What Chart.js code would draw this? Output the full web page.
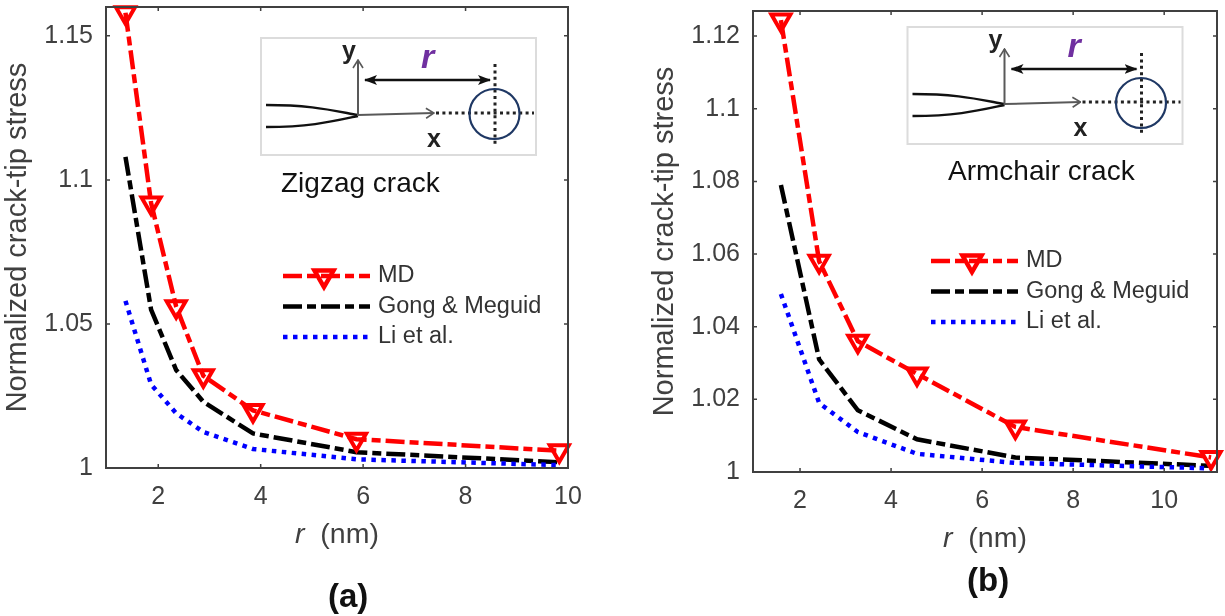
<!DOCTYPE html>
<html>
<head>
<meta charset="utf-8">
<script src="https://cdn.jsdelivr.net/npm/chart.js@4"></script>
<style>
  html, body { margin: 0; background: #fff; }
  #page { position: relative; width: 1225px; height: 616px; overflow: hidden; font-family: "Liberation Sans", Arial, sans-serif; }
  canvas { position: absolute; top: 0; }
  svg { position: absolute; left: 0; top: 0; }
  .txt { position: absolute; white-space: nowrap; line-height: 1; }
  .xt { font-size: 28.5px; color: #404040; }
  .cap { font-size: 33px; font-weight: bold; color: #111; }
</style>
</head>
<body>
<div id="page">
  <canvas id="chartA" width="640" height="616" style="left:0"></canvas>
  <canvas id="chartB" width="585" height="616" style="left:640px"></canvas>

  <svg width="1225" height="616" font-family="Liberation Sans, Arial, sans-serif">
    <defs>
      <marker id="head" markerWidth="13" markerHeight="10" refX="12" refY="5" orient="auto-start-reverse" markerUnits="userSpaceOnUse">
        <path d="M0 0 L13 5 L0 10 L3 5 Z" fill="#111"/>
      </marker>
      <marker id="open" markerWidth="10" markerHeight="12" refX="9" refY="6" orient="auto" markerUnits="userSpaceOnUse">
        <path d="M1 1 L9 6 L1 11" fill="none" stroke="#595959" stroke-width="1.6"/>
      </marker>
      <g id="inset">
        <rect x="261" y="38" width="275" height="117" fill="#fff" stroke="#dcdcdc" stroke-width="2"/>
        <path d="M266 105 C310 105 330 110 358 115" fill="none" stroke="#111" stroke-width="2.4"/>
        <path d="M266 127 C310 127 330 122 358 116" fill="none" stroke="#111" stroke-width="2.4"/>
        <line x1="358" y1="116" x2="358" y2="60" stroke="#595959" stroke-width="2" marker-end="url(#open)"/>
        <line x1="358" y1="115" x2="434" y2="113" stroke="#595959" stroke-width="2" marker-end="url(#open)"/>
        <line x1="436" y1="113" x2="534" y2="113" stroke="#222" stroke-width="3" stroke-dasharray="3 3.4"/>
        <line x1="495" y1="64" x2="495" y2="144" stroke="#222" stroke-width="3" stroke-dasharray="3 3.4"/>
        <circle cx="494.5" cy="114" r="25" fill="none" stroke="#1f3864" stroke-width="2.2"/>
        <line x1="365" y1="80" x2="490" y2="80" stroke="#111" stroke-width="2.4" marker-start="url(#head)" marker-end="url(#head)"/>
        <text x="342" y="59" font-size="25" font-weight="bold" fill="#222">y</text>
        <text x="427" y="147" font-size="25" font-weight="bold" fill="#222">x</text>
        <text x="421" y="68" font-size="34" font-weight="bold" font-style="italic" fill="#7030a0">r</text>
      </g>
    </defs>
    <use href="#inset"/>
    <use href="#inset" x="646.5" y="-11"/>
    <text x="281" y="192" font-size="28" fill="#111">Zigzag crack</text>
    <text x="948" y="180" font-size="28" fill="#111">Armchair crack</text>
  </svg>

  <div class="txt xt" style="left:295px; top:519px"><i>r</i>&nbsp; (nm)</div>
  <div class="txt xt" style="left:943px; top:523px"><i>r</i>&nbsp; (nm)</div>
  <div class="txt cap" style="left:328px; top:579px">(a)</div>
  <div class="txt cap" style="left:967px; top:563px">(b)</div>
</div>

<script>
// ---- datos ----
const seriesNames = ["MD", "Gong & Meguid", "Li et al."];
const yTitle = "Normalized crack-tip stress";

const rZigzag = [1.36, 1.86, 2.35, 2.88, 3.85, 5.87, 9.83];
const mdZigzag = [1.158, 1.092, 1.056, 1.032, 1.020, 1.010, 1.006];
const gongZigzag = [1.108, 1.055, 1.034, 1.023, 1.012, 1.0055, 1.002];
const liZigzag = [1.058, 1.029, 1.019, 1.0125, 1.0066, 1.003, 1.001];

const rArmchair = [1.58, 2.42, 3.27, 4.57, 6.73, 11.03];
const mdArmchair = [1.1244, 1.058, 1.036, 1.027, 1.0124, 1.004];
const gongArmchair = [1.079, 1.031, 1.017, 1.009, 1.004, 1.0017];
const liArmchair = [1.049, 1.019, 1.011, 1.005, 1.0025, 1.001];

const xTicksZigzag = [2, 4, 6, 8, 10];
const yTicksZigzag = [1, 1.05, 1.1, 1.15];
const xTicksArmchair = [2, 4, 6, 8, 10];
const yTicksArmchair = [1, 1.02, 1.04, 1.06, 1.08, 1.1, 1.12];

const AXIS_COLOR = "#404040";
const FONT_FAMILY = "'Liberation Sans', Arial, sans-serif";
const TICK_FONT = { family: FONT_FAMILY, size: 25 };

// marco con ticks hacia dentro (estilo MATLAB)
const framePlugin = {
  id: "frame",
  afterDatasetsDraw(chart) {
    const { ctx, chartArea: a, scales } = chart;
    ctx.save();
    ctx.strokeStyle = AXIS_COLOR;
    ctx.lineWidth = 2;
    ctx.strokeRect(a.left, a.top, a.right - a.left, a.bottom - a.top);
    ctx.lineWidth = 1.5;
    ctx.beginPath();
    scales.x.ticks.forEach(t => {
      const px = scales.x.getPixelForValue(t.value);
      ctx.moveTo(px, a.bottom); ctx.lineTo(px, a.bottom - 4);
      ctx.moveTo(px, a.top); ctx.lineTo(px, a.top + 4);
    });
    scales.y.ticks.forEach(t => {
      const py = scales.y.getPixelForValue(t.value);
      ctx.moveTo(a.left, py); ctx.lineTo(a.left + 4, py);
      ctx.moveTo(a.right, py); ctx.lineTo(a.right - 4, py);
    });
    ctx.stroke();
    ctx.restore();
  }
};

// leyenda propia: la de Chart.js no mezcla linea discontinua y marcador
const legendPlugin = {
  id: "sideLegend",
  afterDraw(chart, args, opts) {
    const { ctx } = chart;
    ctx.save();
    ctx.textBaseline = "middle";
    ctx.font = "23.5px " + FONT_FAMILY;
    chart.data.datasets.forEach((ds, i) => {
      const y = opts.y + i * opts.rowGap;
      ctx.strokeStyle = ds.borderColor;
      ctx.lineWidth = ds.borderWidth;
      ctx.setLineDash(ds.borderDash);
      ctx.beginPath();
      ctx.moveTo(opts.x, y);
      ctx.lineTo(opts.x + 87, y);
      ctx.stroke();
      ctx.setLineDash([]);
      if (ds.pointRadius > 0) {
        ctx.fillStyle = "rgba(255,255,255,0)";
        Chart.helpers.drawPoint(ctx, {
          pointStyle: ds.pointStyle,
          rotation: ds.pointRotation,
          radius: ds.pointRadius,
          borderWidth: ds.pointBorderWidth
        }, opts.x + 41, y);
      }
      ctx.fillStyle = "#333";
      ctx.fillText(ds.label, opts.x + 95, y);
    });
    ctx.restore();
  }
};

function makeDatasets(xs, md, gong, li) {
  const toPts = ys => ys.map((y, i) => ({ x: xs[i], y }));
  return [
    {
      label: seriesNames[0], data: toPts(md), order: 1, clip: false,
      borderColor: "#ff0000", backgroundColor: "rgba(0,0,0,0)", borderWidth: 4.5, borderDash: [19, 5, 9, 5],
      pointStyle: "triangle", pointRotation: 180, pointRadius: 11,
      pointBorderColor: "#ff0000", pointBackgroundColor: "rgba(255,255,255,0)", pointBorderWidth: 4
    },
    {
      label: seriesNames[1], data: toPts(gong), order: 3,
      borderColor: "#000000", borderWidth: 4.5, borderDash: [19, 5, 9, 5], pointRadius: 0
    },
    {
      label: seriesNames[2], data: toPts(li), order: 2,
      borderColor: "#0000ff", borderWidth: 4.5, borderDash: [4.5, 5.5], pointRadius: 0
    }
  ];
}

function makeChart(id, cfg) {
  const useTicks = values => scale => { scale.ticks = values.map(value => ({ value })); };
  return new Chart(document.getElementById(id), {
    type: "line",
    data: { datasets: makeDatasets(cfg.xs, cfg.md, cfg.gong, cfg.li) },
    plugins: [framePlugin, legendPlugin],
    options: {
      responsive: false,
      animation: false,
      layout: { autoPadding: false, padding: { top: cfg.top, right: cfg.right, left: 0, bottom: 0 } },
      plugins: {
        legend: { display: false },
        tooltip: { enabled: false },
        sideLegend: cfg.legend
      },
      scales: {
        x: {
          type: "linear", min: cfg.xMin, max: cfg.xMax,
          grid: { display: false, drawTicks: false }, border: { display: false },
          afterBuildTicks: useTicks(cfg.xTicks),
          afterFit: s => { s.height = 616 - cfg.bottom; s.paddingLeft = 0; s.paddingRight = 0; },
          ticks: { color: AXIS_COLOR, font: TICK_FONT, padding: 14, maxRotation: 0, autoSkip: false, callback: v => String(v) }
        },
        y: {
          type: "linear", min: 1, max: cfg.yMax,
          title: { display: true, text: yTitle, color: AXIS_COLOR, font: { family: FONT_FAMILY, size: 29 }, padding: { top: cfg.titleGap, bottom: 0 } },
          grid: { display: false, drawTicks: false }, border: { display: false },
          afterBuildTicks: useTicks(cfg.yTicks),
          afterFit: s => { s.width = cfg.left; s.paddingTop = 0; s.paddingBottom = 0; },
          ticks: { color: AXIS_COLOR, font: TICK_FONT, padding: 13, autoSkip: false, callback: v => String(v) }
        }
      }
    }
  });
}

makeChart("chartA", {
  xs: rZigzag, md: mdZigzag, gong: gongZigzag, li: liZigzag,
  xTicks: xTicksZigzag, yTicks: yTicksZigzag,
  xMin: 0.98, xMax: 10, yMax: 1.16,
  left: 106, right: 72, top: 7, bottom: 468, titleGap: 1,
  legend: { x: 283, y: 276, rowGap: 30.5 }
});

makeChart("chartB", {
  xs: rArmchair, md: mdArmchair, gong: gongArmchair, li: liArmchair,
  xTicks: xTicksArmchair, yTicks: yTicksArmchair,
  xMin: 0.967, xMax: 11.16, yMax: 1.1269,
  left: 113, right: 8, top: 11, bottom: 472, titleGap: 8,
  legend: { x: 291, y: 261, rowGap: 30.5 }
});
</script>
</body>
</html>
